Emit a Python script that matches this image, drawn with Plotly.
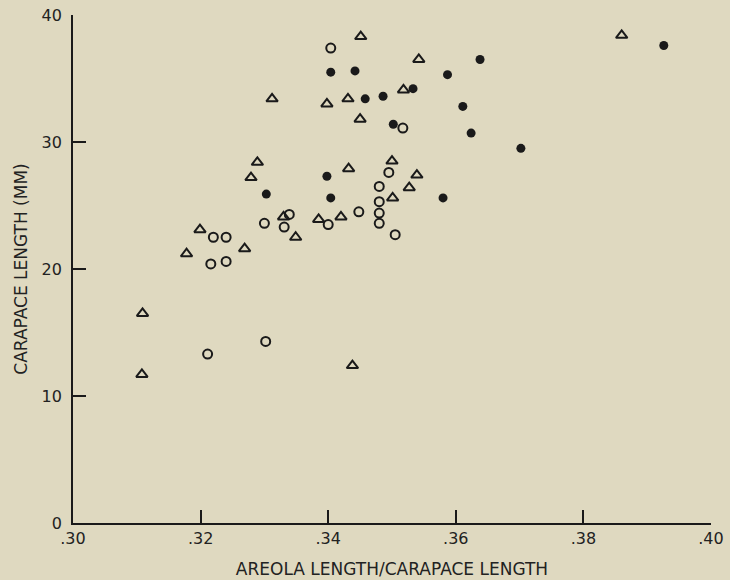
import plotly.graph_objects as go

# Open triangles
tri_x = [0.3451, 0.3312, 0.3398, 0.3431, 0.3450, 0.3289, 0.3279, 0.3432, 0.3500, 0.3501,
         0.3330, 0.3349, 0.3385, 0.3420, 0.3199, 0.3178, 0.3269, 0.3542, 0.3518, 0.3860,
         0.3539, 0.3527, 0.3109, 0.3108, 0.3438]
tri_y = [38.3, 33.4, 33.0, 33.4, 31.8, 28.4, 27.2, 27.9, 28.5, 25.6,
         24.1, 22.5, 23.9, 24.1, 23.1, 21.2, 21.6, 36.5, 34.1, 38.4,
         27.4, 26.4, 16.5, 11.7, 12.4]

# Open circles
oc_x = [0.3404, 0.3495, 0.3480, 0.3480, 0.3480, 0.3480, 0.3505, 0.3448, 0.3400, 0.3339,
        0.3331, 0.3300, 0.3220, 0.3240, 0.3216, 0.3240, 0.3517, 0.3211, 0.3302]
oc_y = [37.4, 27.6, 26.5, 25.3, 24.4, 23.6, 22.7, 24.5, 23.5, 24.3,
        23.3, 23.6, 22.5, 22.5, 20.4, 20.6, 31.1, 13.3, 14.3]

# Filled circles
fc_x = [0.3404, 0.3442, 0.3458, 0.3486, 0.3502, 0.3398, 0.3404, 0.3303, 0.3638, 0.3587,
        0.3533, 0.3611, 0.3624, 0.3702, 0.3580, 0.3926]
fc_y = [35.5, 35.6, 33.4, 33.6, 31.4, 27.3, 25.6, 25.9, 36.5, 35.3,
        34.2, 32.8, 30.7, 29.5, 25.6, 37.6]

x_ticks = [0.30, 0.32, 0.34, 0.36, 0.38, 0.40]
x_tick_text = [".30", ".32", ".34", ".36", ".38", ".40"]
y_ticks = [0, 10, 20, 30, 40]

ink = "#1a1a1a"
bg = "#dfd9c0"

fig = go.Figure()
fig.add_trace(go.Scatter(x=tri_x, y=tri_y, mode="markers",
                         marker=dict(symbol="triangle-up-open", size=10, color=ink,
                                     line=dict(width=2, color=ink))))
fig.add_trace(go.Scatter(x=oc_x, y=oc_y, mode="markers",
                         marker=dict(symbol="circle-open", size=9, color=ink,
                                     line=dict(width=2, color=ink))))
fig.add_trace(go.Scatter(x=fc_x, y=fc_y, mode="markers",
                         marker=dict(symbol="circle", size=9, color=ink,
                                     line=dict(width=0))))

axis_font = dict(family="DejaVu Sans", size=16, color="#222")
title_font = dict(family="DejaVu Sans", size=17, color="#222")
fig.update_layout(
    width=730, height=580,
    margin=dict(l=73, r=19, t=15, b=57),
    paper_bgcolor=bg, plot_bgcolor=bg,
    showlegend=False,
    font=dict(family="DejaVu Sans", color="#222"),
    xaxis=dict(range=[0.30, 0.40], tickvals=x_ticks, ticktext=x_tick_text,
               ticks="inside", ticklen=13, tickwidth=1.5, tickcolor=ink,
               showline=True, linecolor=ink, linewidth=1.8, automargin=False,
               showgrid=False, zeroline=False, tickfont=axis_font,
               title=dict(text="AREOLA LENGTH/CARAPACE LENGTH", font=title_font,
                          standoff=16)),
    yaxis=dict(range=[0, 40], tickvals=y_ticks,
               ticks="inside", ticklen=13, tickwidth=1.5, tickcolor=ink,
               showline=True, linecolor=ink, linewidth=1.8, automargin=False,
               ticklabelstandoff=6,
               showgrid=False, zeroline=False, tickfont=axis_font,
               title=dict(text="CARAPACE LENGTH (MM)", font=title_font,
                          standoff=10)),
)

fig.write_html(
    "out.html",
    config={"displayModeBar": False},
    post_script="document.body.style.margin='0';document.body.style.background='%s';" % bg,
)
